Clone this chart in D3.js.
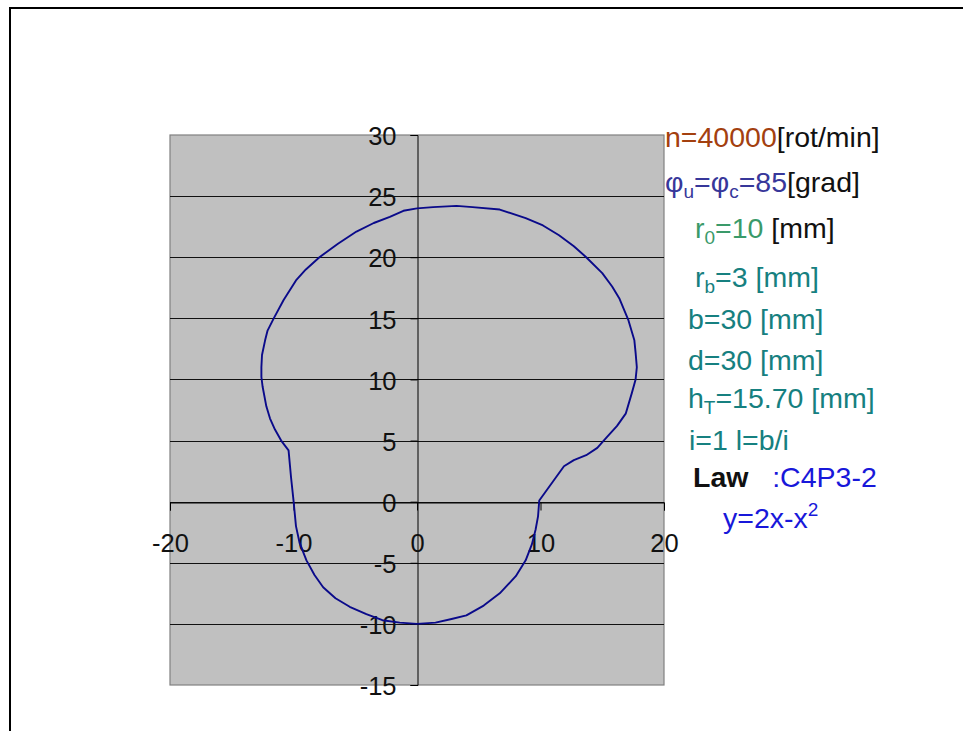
<!DOCTYPE html>
<html>
<head>
<meta charset="utf-8">
<script src="https://cdn.jsdelivr.net/npm/d3@7"></script>
<style>
  html, body { margin: 0; padding: 0; background: #fff; }
  svg { display: block; }
  text { font-family: "Liberation Sans", Arial, sans-serif; }
</style>
</head>
<body>
<svg id="chart" width="963" height="731"></svg>
<script>
// ---- data ----
const xTicks = [-20, -10, 0, 10, 20];
const yTicks = [-15, -10, -5, 0, 5, 10, 15, 20, 25, 30];
const gridValues = [-10, -5, 0, 5, 10, 15, 20, 25];

const profileX = [0, -1.1, -2.2, -3.5, -4.9, -6.4, -7.9, -9.0, -9.8, -10.8, -11.6, -12.1, -12.3, -12.55, -12.6,
  -12.6, -12.5, -12.2, -11.9, -11.5, -11.0, -10.4, -10.2, -10.0, -9.8, -9.5, -8.95, -8.3, -7.6, -6.6,
  -5.45, -4.1, -2.8, -1.4, 0, 1.5, 2.8, 4.0, 5.4, 6.7, 8.0, 8.8, 9.3, 9.6, 9.8, 9.9,
  11.9, 12.7, 13.7, 14.6, 15.3, 16.2, 16.9, 17.4, 17.7, 17.8, 17.7, 17.6, 17.1, 16.4, 15.8, 15.0,
  13.7, 12.7, 11.5, 10.2, 8.8, 6.7, 4.5, 3.2, 1.3, 0];
const profileY = [24.0, 23.8, 23.3, 22.8, 22.1, 21.1, 20.0, 19.0, 18.1, 16.5, 15.0, 14.0, 13.2, 12.0, 11.0,
  10.2, 9.4, 7.8, 6.8, 5.9, 5.0, 4.2, 2.0, 0.1, -2.0, -3.4, -4.8, -6.0, -7.0, -7.9,
  -8.6, -9.2, -9.7, -9.9, -10.0, -9.9, -9.6, -9.3, -8.5, -7.5, -6.1, -4.8, -3.5, -2.3, -1.2, 0.1,
  2.9, 3.4, 3.8, 4.4, 5.2, 6.2, 7.2, 8.9, 10.0, 11.0, 12.2, 13.2, 14.9, 16.6, 17.6, 18.7,
  20.0, 20.9, 21.8, 22.6, 23.2, 23.9, 24.1, 24.2, 24.1, 24.0];

// legend rows: [text, colourKey, variant]
const legendRows = [
  [["n=40000", "brown"], ["[rot/min]", "black"]],
  [["φ", "indigo"], ["u", "indigo", "sub"], ["=φ", "indigo"], ["c", "indigo", "sub"], ["=85", "indigo"], ["[grad]", "black"]],
  [["r", "green"], ["0", "green", "sub"], ["=10", "green"], [" [mm]", "black"]],
  [["r", "teal"], ["b", "teal", "sub"], ["=3 [mm]", "teal"]],
  [["b=30 [mm]", "teal"]],
  [["d=30 [mm]", "teal"]],
  [["h", "teal"], ["T", "teal", "sub"], ["=15.70 [mm]", "teal"]],
  [["i=1 l=b/i", "teal"]],
  [["Law", "black", "bold"], ["   :C4P3-2", "blue"]],
  [["y=2x-x", "blue"], ["2", "blue", "sup"]]
];

// ---- styles / layout ----
const colours = { brown: "#A3400F", black: "#111111", indigo: "#37379A", green: "#3A9A6A", teal: "#168080", blue: "#1818DA" };
const rowX = [665, 665, 695, 695, 688, 688, 688, 689, 693, 723];
const rowY = [147, 192, 238, 287, 329, 370, 408, 450, 487, 528];

const svg = d3.select("#chart");
const plot = { left: 170, right: 664, top: 135, bottom: 685 };

const x = d3.scaleLinear().domain([-20, 20]).range([plot.left, plot.right]);
const y = d3.scaleLinear().domain([-15, 30]).range([plot.bottom, plot.top]);

// outer frame
svg.append("rect").attr("x", 10).attr("y", 8).attr("width", 1200).attr("height", 1200)
  .attr("fill", "none").attr("stroke", "#000").attr("stroke-width", 2);

// plot background
svg.append("rect").attr("x", plot.left).attr("y", plot.top)
  .attr("width", plot.right - plot.left).attr("height", plot.bottom - plot.top)
  .attr("fill", "#C0C0C0").attr("stroke", "#808080").attr("stroke-width", 1.2);

// gridlines
svg.append("g").selectAll("line").data(gridValues).join("line")
  .attr("x1", plot.left).attr("x2", plot.right)
  .attr("y1", d => Math.round(y(d)) + 0.5).attr("y2", d => Math.round(y(d)) + 0.5)
  .attr("stroke", "#111").attr("stroke-width", 1);

const fmt = d => String(d);

// y axis at x=0
const yAxis = d3.axisLeft(y).tickValues(yTicks).tickSize(7).tickPadding(14).tickFormat(fmt);
const gy = svg.append("g").attr("transform", `translate(${Math.round(x(0)) + 0.5},0)`).call(yAxis);
gy.select(".domain").attr("stroke", "#000");
gy.selectAll(".tick line").attr("stroke", "#000");
gy.selectAll(".tick text").attr("font-size", 25.5).attr("fill", "#111")
  .attr("font-family", "Liberation Sans, Arial, sans-serif").attr("dy", "0.38em");

// x axis at y=0
const xAxis = d3.axisBottom(x).tickValues(xTicks).tickSize(8).tickPadding(23).tickFormat(fmt);
const gx = svg.append("g").attr("transform", `translate(0,${Math.round(y(0)) + 0.5})`).call(xAxis);
gx.select(".domain").attr("stroke", "#000");
gx.selectAll(".tick line").attr("stroke", "#000");
gx.selectAll(".tick text").attr("font-size", 25.5).attr("fill", "#111")
  .attr("font-family", "Liberation Sans, Arial, sans-serif");

// profile curve
const pts = profileX.map((v, i) => [v, profileY[i]]);
const line = d3.line().x(d => x(d[0])).y(d => y(d[1])).curve(d3.curveLinear);
svg.append("path").datum(pts).attr("d", line)
  .attr("fill", "none").attr("stroke", "#0A0A8A").attr("stroke-width", 1.9)
  .attr("stroke-linejoin", "round");

// legend text
legendRows.forEach((row, i) => {
  const t = svg.append("text").attr("x", rowX[i]).attr("y", rowY[i])
    .attr("font-size", 28.5).style("white-space", "pre");
  let shift = 0;
  row.forEach(([txt, col, variant]) => {
    const ts = t.append("tspan").text(txt).attr("fill", colours[col]);
    if (variant === "sub") {
      ts.attr("font-size", 19).attr("dy", 6 - shift); shift = 6;
    } else if (variant === "sup") {
      ts.attr("font-size", 19).attr("dy", -12 - shift); shift = -12;
    } else {
      if (shift !== 0) { ts.attr("dy", -shift); shift = 0; }
      if (variant === "bold") ts.attr("font-weight", "bold");
    }
  });
});
</script>
</body>
</html>
